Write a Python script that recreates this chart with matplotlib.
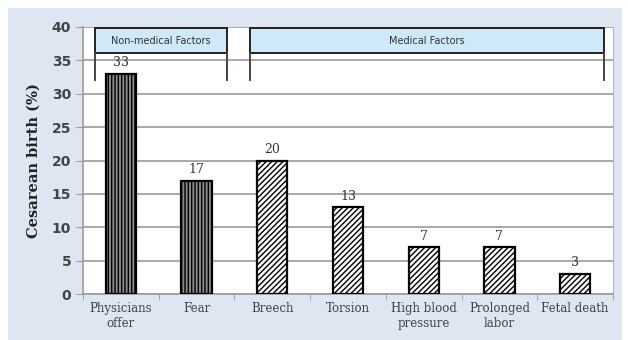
import numpy as np
import matplotlib.pyplot as plt
from matplotlib.patches import Rectangle

# Reasons for cesarean birth
categories = ["Physicians\noffer", "Fear", "Breech", "Torsion",
              "High blood\npressure", "Prolonged\nlabor", "Fetal death"]
values = [33, 17, 20, 13, 7, 7, 3]
is_medical = [False, False, True, True, True, True, True]
group_names = ["Non-medical Factors", "Medical Factors"]

BG = "#dde6f1"
BOX = "#cfe9f8"
GRID = "#9a9a9a"

fig = plt.figure(figsize=(6.28, 3.4), dpi=100)
fig.patch.set_facecolor("white")
fig.patches.append(Rectangle((8 / 628, 0), 614 / 628, 332 / 340, transform=fig.transFigure,
                             facecolor=BG, edgecolor="none", zorder=-10))

ax = fig.add_axes([83 / 628, 1 - 294 / 340, 530 / 628, 267 / 340])
ax.set_facecolor("white")

x = np.arange(len(categories))
for xi, v, med in zip(x, values, is_medical):
    if med:
        ax.bar(xi, v, width=0.4, facecolor="white", edgecolor="black",
               hatch="//////", linewidth=1.6, zorder=3)
    else:
        ax.bar(xi, v, width=0.4, facecolor="#8a8a8a", edgecolor="black",
               hatch="|||||", linewidth=1.6, zorder=3)
    ax.text(xi, v + 0.7, str(v), ha="center", va="bottom", fontsize=9,
            family="DejaVu Serif", color="#333333")

ax.set_xlim(-0.5, 6.5)
ax.set_ylim(0, 40)
ax.set_yticks(range(0, 41, 5))
ax.yaxis.grid(True, color=GRID, linewidth=1.2, zorder=0)
ax.set_axisbelow(True)

ax.set_xticks(x)
ax.set_xticklabels(categories, family="DejaVu Serif", fontsize=8.5, color="#444444")
ax.set_xticks(np.arange(-0.5, 7, 1), minor=True)
ax.tick_params(axis="x", which="major", length=0, pad=6)
ax.tick_params(axis="x", which="minor", length=4, color=GRID)
ax.tick_params(axis="y", length=5, color=GRID, labelsize=10, labelcolor="#444444")
for lab in ax.get_yticklabels():
    lab.set_fontweight("bold")

for side in ["top"]:
    ax.spines[side].set_visible(False)
ax.spines["right"].set_color("#b0b8c4")
ax.spines["left"].set_color(GRID)
ax.spines["bottom"].set_color(GRID)
ax.spines["left"].set_linewidth(1.2)
ax.spines["bottom"].set_linewidth(1.2)

ax.set_ylabel("Cesarean birth (%)", family="DejaVu Serif", fontweight="bold",
              fontsize=10.5, color="#222222", labelpad=8)

# group brackets above the bars
groups = [(-0.34, 1.40, group_names[0]), (1.71, 6.38, group_names[1])]
for x0, x1, name in groups:
    ax.add_patch(Rectangle((x0, 36.1), x1 - x0, 3.7, facecolor=BOX, edgecolor="#222222",
                           linewidth=1.4, zorder=4, clip_on=False))
    ax.plot([x0, x0], [36.1, 32.0], color="#444444", linewidth=1.4, zorder=4)
    ax.plot([x1, x1], [36.1, 32.0], color="#444444", linewidth=1.4, zorder=4)
    ax.text((x0 + x1) / 2, 37.95, name, ha="center", va="center", fontsize=7,
            color="#333333", zorder=5)

fig.savefig("out.png", dpi=100)
